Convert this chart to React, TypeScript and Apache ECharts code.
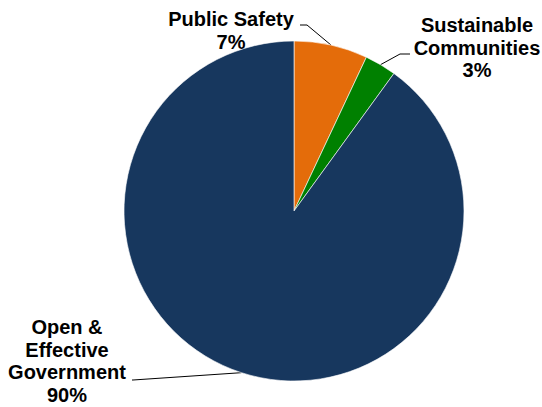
import React, { useEffect, useRef } from "react";
import * as echarts from "echarts";

const categories = ["Public Safety", "Sustainable\nCommunities", "Open &\nEffective\nGovernment"];
const values = [7, 3, 90];
const colors = ["#E46C0A", "#008000", "#17375E"];

// label placement (style only): top-centre reference of each label block
const labelPos = [
  { x: 231, y: 8 },
  { x: 477, y: 14 },
  { x: 67, y: 316 },
];

export default function App() {
  const ref = useRef<HTMLDivElement>(null);
  useEffect(() => {
    document.body.style.margin = "0";
    const chart = echarts.init(ref.current!, null, { renderer: "svg" });
    const cx = 294, cy = 211, r = 170;
    const total = values.reduce((a, b) => a + b, 0);
    const anchor = (i: number) => {
      let acc = 0;
      for (let k = 0; k < i; k++) acc += values[k];
      const mid = ((acc + values[i] / 2) / total) * Math.PI * 2;
      return [cx + r * Math.sin(mid), cy - r * Math.cos(mid)];
    };
    chart.setOption({
      animation: false,
      series: [
        {
          type: "pie",
          center: [cx, cy],
          radius: r,
          startAngle: 90,
          clockwise: true,
          avoidLabelOverlap: false,
          data: categories.map((c, i) => ({ name: c, value: values[i], itemStyle: { color: colors[i] } })),
          itemStyle: { borderColor: "#ffffff", borderWidth: 0.6 },
          label: {
            show: true,
            position: "outside",
            overflow: "none",
            formatter: (p: any) => `${p.name}\n${Math.round(p.percent)}%`,
            fontFamily: "'Liberation Sans', Arial, sans-serif",
            fontWeight: "bold",
            fontSize: 20,
            lineHeight: 22.5,
            color: "#000",
            align: "center",
          },
          labelLine: { show: true, lineStyle: { color: "#000", width: 1 } },
          labelLayout: (params: any) => {
            const i = params.dataIndex;
            const lp = labelPos[i];
            const p0 = anchor(i);
            let pts: number[][];
            if (i === 0) {
              pts = [p0, [lp.x + 76, lp.y + 17], [lp.x + 69, lp.y + 17]];
            } else if (i === 1) {
              pts = [p0, [lp.x - 77, lp.y + 40], [lp.x - 67, lp.y + 40]];
            } else {
              pts = [p0, [lp.x + 66, lp.y + 64], [lp.x + 65, lp.y + 64]];
            }
            return { x: lp.x, y: lp.y, align: "center", verticalAlign: "top", labelLinePoints: pts };
          },
        },
      ],
    });
    return () => chart.dispose();
  }, []);
  return <div ref={ref} style={{ width: 542, height: 407 }} />;
}
